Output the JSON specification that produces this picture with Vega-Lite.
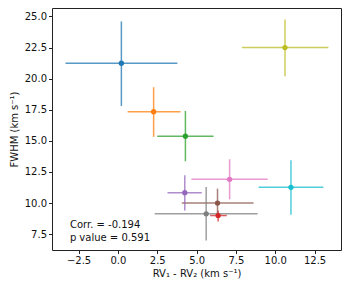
{
  "$schema": "https://vega.github.io/schema/vega-lite/v6.json",
  "width": 289,
  "height": 242,
  "autosize": {"type": "none"},
  "padding": {"left": 52, "top": 8, "right": 8, "bottom": 41},
  "background": "white",
  "config": {
    "font": "DejaVu Sans",
    "view": {"stroke": "#222", "strokeWidth": 1},
    "axis": {
      "domain": false,
      "grid": false,
      "tickColor": "#222",
      "tickSize": 3.5,
      "tickWidth": 1,
      "labelFontSize": 10,
      "labelColor": "#111",
      "labelPadding": 2,
      "labelFlush": false,
      "labelOverlap": false,
      "titleFontSize": 10,
      "titleFontWeight": "normal",
      "titleColor": "#111",
      "labelFont": "DejaVu Sans",
      "titleFont": "DejaVu Sans"
    }
  },
  "datasets": {
    "pts": [
      {"id": "a", "x": 0.22, "y": 21.24, "xlo": -3.33, "xhi": 3.78, "ylo": 17.8, "yhi": 24.6},
      {"id": "b", "x": 2.27, "y": 17.34, "xlo": 0.62, "xhi": 3.98, "ylo": 15.32, "yhi": 19.31},
      {"id": "c", "x": 4.29, "y": 15.38, "xlo": 2.5, "xhi": 6.08, "ylo": 13.36, "yhi": 17.4},
      {"id": "d", "x": 6.37, "y": 9.0, "xlo": 5.86, "xhi": 6.92, "ylo": 8.52, "yhi": 9.41},
      {"id": "e", "x": 4.25, "y": 10.84, "xlo": 3.15, "xhi": 5.33, "ylo": 9.41, "yhi": 12.23},
      {"id": "f", "x": 6.33, "y": 10.0, "xlo": 4.06, "xhi": 8.62, "ylo": 8.8, "yhi": 11.16},
      {"id": "g", "x": 7.1, "y": 11.91, "xlo": 4.67, "xhi": 9.52, "ylo": 10.3, "yhi": 13.52},
      {"id": "h", "x": 5.61, "y": 9.14, "xlo": 2.34, "xhi": 8.88, "ylo": 7.0, "yhi": 11.3},
      {"id": "i", "x": 10.62, "y": 22.5, "xlo": 7.88, "xhi": 13.38, "ylo": 20.19, "yhi": 24.76},
      {"id": "j", "x": 11.0, "y": 11.27, "xlo": 8.94, "xhi": 13.06, "ylo": 9.06, "yhi": 13.44}
    ],
    "notes": [
      {"x": -3.05, "y": 8.2, "t": "Corr. = -0.194", "style": "normal"},
      {"x": -3.05, "y": 7.21, "t": "p", "style": "italic"},
      {"x": -2.45, "y": 7.21, "t": "value = 0.591", "style": "normal"}
    ]
  },
  "encoding": {
    "x": {"field": "x", "type": "quantitative",
      "scale": {"domain": [-4.19, 14.18], "nice": false, "zero": false},
      "axis": {"values": [-2.5, 0, 2.5, 5, 7.5, 10, 12.5], "format": ".1f", "labelOverlap": false, "title": "RV₁ - RV₂ (km s⁻¹)", "titlePadding": 3}},
    "y": {"field": "y", "type": "quantitative",
      "scale": {"domain": [6.23, 25.68], "nice": false, "zero": false},
      "axis": {"values": [7.5, 10, 12.5, 15, 17.5, 20, 22.5, 25], "format": ".1f", "labelOverlap": false, "title": "FWHM (km s⁻¹)", "titlePadding": 5}}
  },
  "layer": [
    {
      "data": {"name": "pts"},
      "mark": {"type": "rule", "strokeWidth": 1.5, "opacity": 0.75},
      "encoding": {
        "x": {"field": "xlo", "type": "quantitative"},
        "x2": {"field": "xhi"},
        "color": {"field": "id", "type": "nominal", "legend": null,
          "scale": {"domain": ["a","b","c","d","e","f","g","h","i","j"],
            "range": ["#1f77b4","#ff7f0e","#2ca02c","#d62728","#9467bd","#8c564b","#e377c2","#7f7f7f","#bcbd22","#17becf"]}}
      }
    },
    {
      "data": {"name": "pts"},
      "mark": {"type": "rule", "strokeWidth": 1.5, "opacity": 0.75},
      "encoding": {
        "y": {"field": "ylo", "type": "quantitative"},
        "y2": {"field": "yhi"},
        "color": {"field": "id", "type": "nominal", "legend": null}
      }
    },
    {
      "data": {"name": "pts"},
      "mark": {"type": "circle", "size": 28, "opacity": 1},
      "encoding": {
        "color": {"field": "id", "type": "nominal", "legend": null}
      }
    },
    {
      "data": {"name": "notes"},
      "mark": {"type": "text", "align": "left", "baseline": "middle", "fontSize": 10, "color": "#111"},
      "encoding": {
        "text": {"field": "t"},
        "fontStyle": {"field": "style", "type": "nominal", "scale": null}
      }
    }
  ]
}
